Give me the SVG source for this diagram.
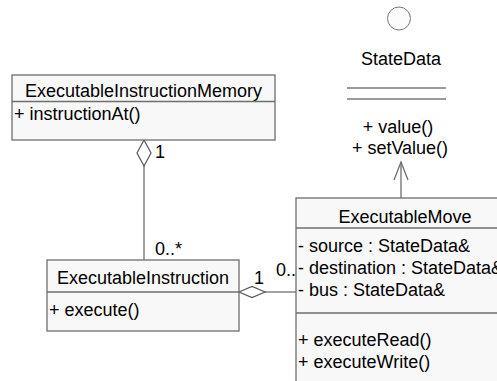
<svg xmlns="http://www.w3.org/2000/svg" width="497" height="381" viewBox="0 0 497 381">
<style>
text{font-family:"Liberation Sans",Arial,sans-serif;font-size:18px;fill:#000}
.box{fill:#f8f8f8;stroke:#6e6e6e;stroke-width:1.3}
.div{stroke:#6e6e6e;stroke-width:1.3}
.c{text-anchor:middle}
.ln{stroke:#6e6e6e;stroke-width:1.3;fill:none}
.dm{fill:#fff;stroke:#555;stroke-width:1.2}
.sd{stroke:#9a9a9a;stroke-width:2}
</style>
<rect width="497" height="381" fill="#fff"/>
<g id="connectors">
<line class="ln" x1="144" y1="166" x2="144" y2="260"/>
<polygon class="dm" points="144,140 151,153 144,166 137,153"/>
<text x="155" y="158">1</text>
<text x="155" y="255">0..*</text>
<line class="ln" x1="265" y1="292" x2="296" y2="292"/>
<polygon class="dm" points="239,292 252,286.5 265,292 252,297.5"/>
<text x="254" y="284">1</text>
<text x="276" y="276">0..*</text>
<line class="ln" x1="401" y1="198" x2="401" y2="162"/>
<polyline class="ln" points="394,180 401,162 408,180"/>
</g>
<g id="StateData">
<circle cx="399" cy="18.5" r="11.5" fill="#fcfcfc" stroke="#777" stroke-width="1"/>
<text class="c" x="401" y="65">StateData</text>
<line class="sd" x1="347" y1="88" x2="446" y2="88"/>
<line class="sd" x1="347" y1="99" x2="446" y2="99"/>
<text class="c" x="398" y="133">+ value()</text>
<text class="c" x="400" y="154">+ setValue()</text>
</g>
<g id="ExecutableInstructionMemory">
<rect class="box" x="12" y="75" width="263" height="65"/>
<line class="div" x1="12" y1="101.5" x2="275" y2="101.5"/>
<text class="c" x="143.5" y="97">ExecutableInstructionMemory</text>
<text x="14" y="120">+ instructionAt()</text>
</g>
<g id="ExecutableInstruction">
<rect class="box" x="47" y="260" width="192" height="71"/>
<line class="div" x1="47" y1="292" x2="239" y2="292"/>
<text class="c" x="143" y="284">ExecutableInstruction</text>
<text x="49" y="316">+ execute()</text>
</g>
<g id="ExecutableMove">
<rect class="box" x="296" y="198" width="230" height="200"/>
<line class="div" x1="296" y1="228" x2="526" y2="228"/>
<line class="div" x1="296" y1="313" x2="526" y2="313"/>
<text class="c" x="405" y="223">ExecutableMove</text>
<text x="298" y="252">- source : StateData&amp;</text>
<text x="298" y="274">- destination : StateData&amp;</text>
<text x="298" y="296">- bus : StateData&amp;</text>
<text x="298" y="346">+ executeRead()</text>
<text x="298" y="368">+ executeWrite()</text>
</g>
</svg>
